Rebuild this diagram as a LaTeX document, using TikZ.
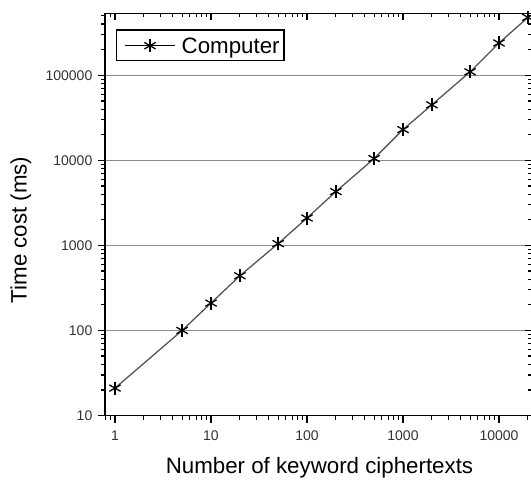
\documentclass[tikz,border=0pt]{standalone}
\usepackage{fontspec}
\setmainfont{Liberation Sans}
\definecolor{gridgray}{HTML}{8C8C8C}
\definecolor{linegray}{HTML}{555555}
\definecolor{labelgray}{HTML}{333333}
\begin{document}
\begin{tikzpicture}[x=1pt,y=-1pt,
  ticklabel/.style={font=\fontsize{14}{14}\selectfont, text=labelgray, inner sep=0pt},
  axistitle/.style={font=\fontsize{22.3}{22}\selectfont, inner sep=0pt},
  frameline/.style={line width=1.5pt},
  tickline/.style={line width=1.2pt},
  gridline/.style={gridgray, line width=1.1pt},
  dataline/.style={linegray, line width=1.3pt},
  starline/.style={black, line width=1.3pt},
  legendbox/.style={draw, line width=1.2pt, inner sep=0pt, minimum width=167.3pt, minimum height=30.7pt},
  declare function={X(\l)=115+96*\l; Y(\l)=415.5-85.05*(\l-1);}
]
\useasboundingbox (0,0) rectangle (531,480);

% grid lines
\foreach \l in {2,3,4,5}{
  \draw[gridline] (105,{Y(\l)}) -- (532.5,{Y(\l)});
}

% x ticks
\foreach \d in {-1,0,1,2,3,4}{
  \foreach \m in {2,...,9}{
    \pgfmathsetmacro\xx{115+96*(\d+log10(\m))}
    \ifdim\xx pt>105.5pt \ifdim\xx pt<531pt
      \draw[tickline] (\xx,415.5) -- ++(0,4);
      \draw[tickline] (\xx,13.3) -- ++(0,4);
    \fi\fi
  }
}
\foreach \l/\t in {0/1,1/10,2/100,3/1000,4/10000}{
  \draw[tickline] ({X(\l)},415.5) -- ++(0,7);
  \draw[tickline] ({X(\l)},13.3) -- ++(0,7);
  \node[ticklabel, anchor=base] (xl\l) at ({X(\l)},440) {\t};
}

% y ticks
\foreach \d in {1,2,3,4,5}{
  \foreach \m in {2,...,9}{
    \pgfmathsetmacro\yy{415.5-85.05*(\d+log10(\m)-1)}
    \ifdim\yy pt>14pt
      \draw[tickline] (105,\yy) -- ++(-4,0);
      \draw[tickline] (532.5,\yy) -- ++(-5,0);
    \fi
  }
}
\foreach \l/\t in {1/10,2/100,3/1000,4/10000,5/100000}{
  \draw[tickline] (105,{Y(\l)}) -- ++(-7,0);
  \draw[tickline] (532.5,{Y(\l)}) -- ++(-8,0);
  \node[ticklabel, anchor=east] (yl\l) at (92.5,{Y(\l)}) {\t};
}

% frame
\draw[frameline] (105,13.3) rectangle (532.5,415.5);

% data
\foreach \i/\lx/\ly in {1/0/1.322,2/0.699/2,3/1/2.322,4/1.301/2.643,5/1.699/3.021,
  6/2/3.322,7/2.301/3.633,8/2.699/4.021,9/3/4.362,10/3.301/4.653,11/3.699/5.041,
  12/4/5.380,13/4.301/5.681}{
  \coordinate (p\i) at ({X(\lx)},{Y(\ly)});
}
\draw[dataline] (p1) -- (p2) -- (p3) -- (p4) -- (p5) -- (p6) -- (p7) -- (p8)
  -- (p9) -- (p10) -- (p11) -- (p12) -- (p13);
\foreach \i in {1,...,13}{
  \foreach \a in {90,30,-30}{
    \draw[starline] (p\i) ++(\a:6.5) -- ++(\a+180:13);
  }
}

% legend
\node[legendbox] (leg) at (200.35,45.35) {};
\coordinate (la) at (125,45.7);
\coordinate (lb) at (175,45.7);
\coordinate (lc) at (150,45.7);
\draw[starline, line width=1.2pt] (la) -- (lb);
\foreach \a in {90,30,-30}{
  \draw[starline] (lc) ++(\a:6.5) -- ++(\a+180:13);
}
\node[axistitle, anchor=base west] (legtext) at (181.5,53.6) {Computer};

% axis titles
\node[axistitle, anchor=base] (xtitle) at (319.5,473.3) {Number of keyword ciphertexts};
\node[axistitle, rotate=90, anchor=base] (ytitle) at (26.7,230) {Time cost (ms)};
\end{tikzpicture}
\end{document}
